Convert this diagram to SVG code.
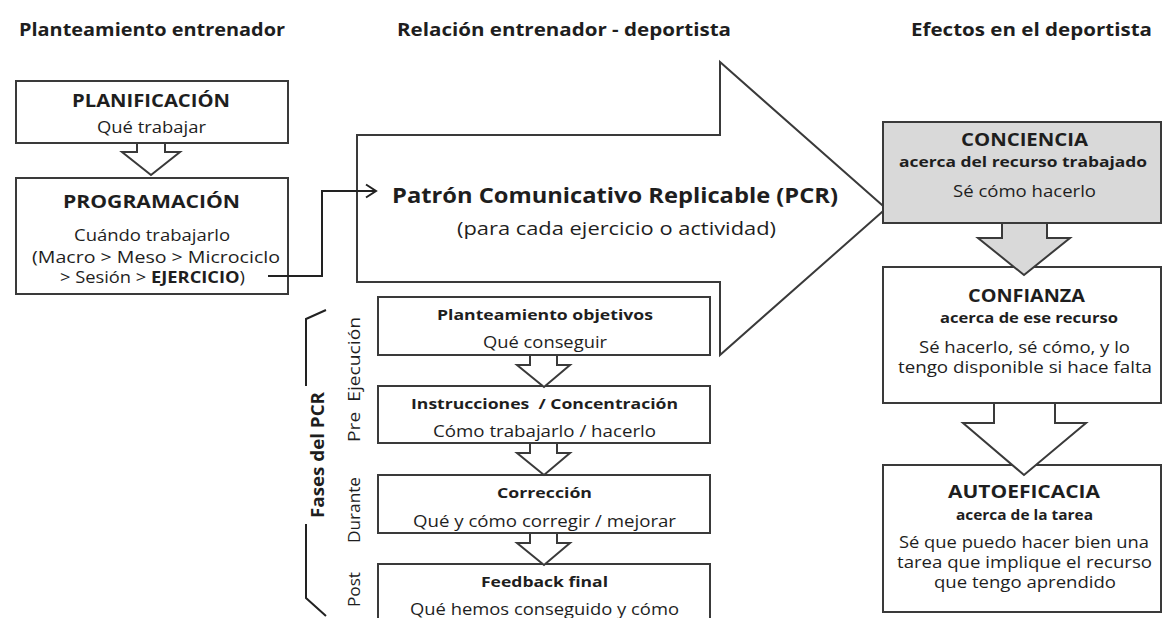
<svg xmlns="http://www.w3.org/2000/svg" width="1164" height="618" viewBox="0 0 1164 618">
<defs>
<style>
text{font-family:"Open Sans",Lato,"Liberation Sans",sans-serif;fill:#1e1e1e;text-anchor:start}
.hd{font-size:17px;font-weight:bold}
.box{fill:#fff;stroke:#3a3a3a;stroke-width:2}
.gray{fill:#d9d9d9;stroke:#3a3a3a;stroke-width:2}
.arr{fill:#fff;stroke:#3a3a3a;stroke-width:2;stroke-linejoin:miter}
.t1{font-size:17px;font-weight:bold}
.t2{font-size:16px}
.tb{font-size:15px;font-weight:bold}
.tc{font-size:18px;font-weight:bold}
.ln{fill:none;stroke:#222;stroke-width:2}
.rot{font-size:17px}
</style>
</defs>
<rect width="1164" height="618" fill="#fff"/>
<g id="headers">
<text class="hd" x="19" y="36" textLength="266" lengthAdjust="spacingAndGlyphs">Planteamiento entrenador</text>
<text class="hd" x="397" y="36" textLength="334" lengthAdjust="spacingAndGlyphs">Relación entrenador - deportista</text>
<text class="hd" x="911" y="36" textLength="241" lengthAdjust="spacingAndGlyphs">Efectos en el deportista</text>
</g>
<g id="pcr">
<polygon class="arr" points="357,135 720,135 720,62 886,208.5 720,355 720,282 357,282"/>
<text x="392" y="203" style="font-size:22px;font-weight:bold" textLength="446" lengthAdjust="spacingAndGlyphs">Patrón Comunicativo Replicable (PCR)</text>
<text x="457" y="235" style="font-size:18.5px" textLength="319" lengthAdjust="spacingAndGlyphs">(para cada ejercicio o actividad)</text>
</g>
<g id="planificacion">
<rect class="box" x="16" y="81" width="272" height="62"/>
<text class="t1" x="72" y="107" textLength="158" lengthAdjust="spacingAndGlyphs">PLANIFICACIÓN</text>
<text class="t2" x="97" y="133" textLength="109" lengthAdjust="spacingAndGlyphs">Qué trabajar</text>
</g>
<g id="programacion">
<rect class="box" x="16" y="178" width="272" height="116"/>
<text class="t1" x="63" y="208" textLength="177" lengthAdjust="spacingAndGlyphs">PROGRAMACIÓN</text>
<text class="t2" x="74" y="241" textLength="156" lengthAdjust="spacingAndGlyphs">Cuándo trabajarlo</text>
<text class="t2" x="32" y="263" textLength="248" lengthAdjust="spacingAndGlyphs">(Macro &gt; Meso &gt; Microciclo</text>
<text class="t2" x="60" y="283" textLength="185" lengthAdjust="spacingAndGlyphs">&gt; Sesión &gt; <tspan font-weight="bold">EJERCICIO</tspan>)</text>
</g>
<g id="objetivos">
<rect class="box" x="378" y="297" width="332" height="58"/>
<text class="tb" x="437" y="320" textLength="216" lengthAdjust="spacingAndGlyphs">Planteamiento objetivos</text>
<text class="t2" x="483" y="348" textLength="124" lengthAdjust="spacingAndGlyphs">Qué conseguir</text>
</g>
<g id="instrucciones">
<rect class="box" x="378" y="386" width="332" height="57"/>
<text class="tb" x="411" y="409" textLength="267" lengthAdjust="spacingAndGlyphs" xml:space="preserve">Instrucciones  / Concentración</text>
<text class="t2" x="433" y="437" textLength="223" lengthAdjust="spacingAndGlyphs">Cómo trabajarlo / hacerlo</text>
</g>
<g id="correccion">
<rect class="box" x="378" y="475" width="332" height="58"/>
<text class="tb" x="497" y="498" textLength="95" lengthAdjust="spacingAndGlyphs">Corrección</text>
<text class="t2" x="413" y="527" textLength="263" lengthAdjust="spacingAndGlyphs">Qué y cómo corregir / mejorar</text>
</g>
<g id="feedback">
<rect class="box" x="378" y="564" width="332" height="70"/>
<text class="tb" x="481" y="587" textLength="127" lengthAdjust="spacingAndGlyphs">Feedback final</text>
<text class="t2" x="410" y="615" textLength="269" lengthAdjust="spacingAndGlyphs">Qué hemos conseguido y cómo</text>
</g>
<g id="conciencia">
<rect class="gray" x="883" y="122" width="278" height="101"/>
<text class="tc" x="961" y="146" textLength="127" lengthAdjust="spacingAndGlyphs">CONCIENCIA</text>
<text class="tb" x="899" y="167" textLength="248" lengthAdjust="spacingAndGlyphs">acerca del recurso trabajado</text>
<text class="t2" x="953" y="197" textLength="143" lengthAdjust="spacingAndGlyphs">Sé cómo hacerlo</text>
</g>
<g id="confianza">
<rect class="box" x="883" y="267" width="278" height="136"/>
<text class="tc" x="968" y="302" textLength="117" lengthAdjust="spacingAndGlyphs">CONFIANZA</text>
<text class="tb" x="940" y="323" textLength="178" lengthAdjust="spacingAndGlyphs">acerca de ese recurso</text>
<text class="t2" x="919" y="353" textLength="211" lengthAdjust="spacingAndGlyphs">Sé hacerlo, sé cómo, y lo</text>
<text class="t2" x="898" y="373" textLength="254" lengthAdjust="spacingAndGlyphs">tengo disponible si hace falta</text>
</g>
<g id="autoeficacia">
<rect class="box" x="883" y="465" width="278" height="147"/>
<text class="tc" x="948" y="498" textLength="152" lengthAdjust="spacingAndGlyphs">AUTOEFICACIA</text>
<text class="tb" x="956" y="520" textLength="137" lengthAdjust="spacingAndGlyphs">acerca de la tarea</text>
<text class="t2" x="899" y="548" textLength="250" lengthAdjust="spacingAndGlyphs">Sé que puedo hacer bien una</text>
<text class="t2" x="897" y="568" textLength="255" lengthAdjust="spacingAndGlyphs">tarea que implique el recurso</text>
<text class="t2" x="934" y="588" textLength="182" lengthAdjust="spacingAndGlyphs">que tengo aprendido</text>
</g>
<g id="fases">
<text class="rot" transform="translate(360,442) rotate(-90)" textLength="125" lengthAdjust="spacingAndGlyphs" xml:space="preserve">Pre  Ejecución</text>
<text class="rot" transform="translate(360,543) rotate(-90)" textLength="66" lengthAdjust="spacingAndGlyphs">Durante</text>
<text class="rot" transform="translate(360,607) rotate(-90)" textLength="35" lengthAdjust="spacingAndGlyphs">Post</text>
<text transform="translate(324,518) rotate(-90)" style="font-size:18px;font-weight:bold" textLength="126" lengthAdjust="spacingAndGlyphs">Fases del PCR</text>
<polyline class="ln" points="326,310 306,319 306,386"/>
<polyline class="ln" points="306,524 306,598 326,616"/>
</g>
<g id="connectors">
<polygon class="arr" points="137,143 165,143 165,152 180,152 151,175 122,152 137,152"/>
<polygon class="arr" points="530,355 557,355 557,365 570,365 544,387 517,365 530,365"/>
<polygon class="arr" points="530,443 557,443 557,453 570,453 544,475 517,453 530,453"/>
<polygon class="arr" points="530,533 557,533 557,543 570,543 544,565 517,543 530,543"/>
<polygon class="gray" points="1002,223 1047,223 1047,238 1070,238 1024,275 978,238 1002,238"/>
<polygon class="arr" points="994,403 1055,403 1055,423 1086,423 1024,475 963,423 994,423"/>
<path class="ln" d="M268,276 H322 V191 H375"/>
<polyline class="ln" points="366,184.5 376,191 366,197.5"/>
</g>
</svg>
